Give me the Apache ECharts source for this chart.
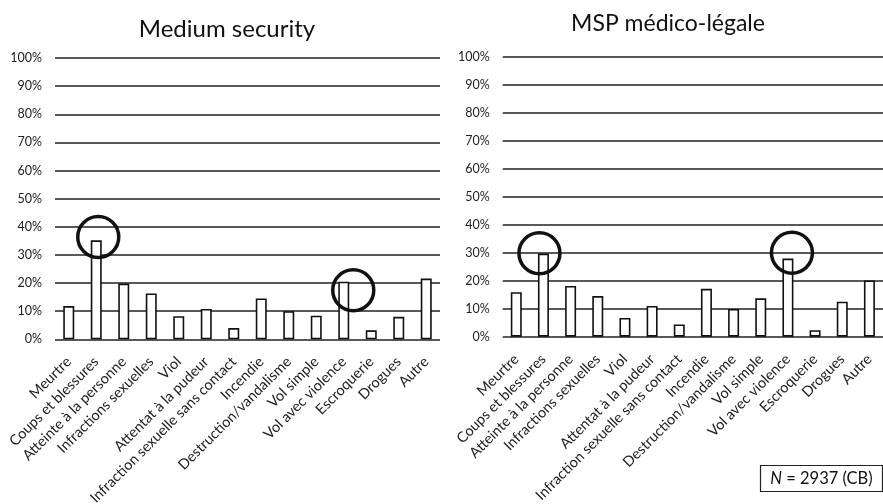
<!DOCTYPE html>
<html><head><meta charset="utf-8">
<script src="https://cdn.jsdelivr.net/npm/echarts@6/dist/echarts.min.js"></script>
<style>html,body{margin:0;padding:0;background:#fff}#c{width:883px;height:504px}</style>
</head><body><div id="c"></div>
<script>
var categories = ['Meurtre','Coups et blessures','Atteinte à la personne','Infractions sexuelles','Viol','Attentat à la pudeur','Infraction sexuelle sans contact','Incendie','Destruction/vandalisme','Vol simple','Vol avec violence','Escroquerie','Drogues','Autre'];
var mediumSecurity = [11.8, 35.2, 19.8, 16.3, 8.2, 10.8, 4.0, 14.5, 10.0, 8.4, 20.5, 3.2, 8.0, 21.6];
var mspMedicoLegale = [15.9, 29.7, 18.1, 14.5, 6.7, 11.0, 4.4, 17.1, 9.9, 13.7, 27.9, 2.3, 12.5, 20.1];
var circlesLeft = [['Coups et blessures', 36.4], ['Vol avec violence', 17.4]];
var circlesRight = [['Coups et blessures', 29.8], ['Vol avec violence', 30.0]];
var titles = ['Medium security', 'MSP médico-légale'];
var noteText = '{i|N} = 2937 (CB)';

var FONT = 'Lato, "Open Sans", sans-serif';
var chart = echarts.init(document.getElementById('c'), null, {renderer:'canvas'});

function xAx(i){
  return {type:'category', gridIndex:i, data:categories,
    axisLine:{show:false}, axisTick:{show:false},
    axisLabel:{rotate:45, interval:0, margin:20, fontFamily:FONT, fontSize:14.5, color:'#222'}};
}
function yAx(i){
  return {type:'value', gridIndex:i, min:0, max:100, interval:10,
    axisLine:{show:false}, axisTick:{show:false},
    axisLabel:{formatter:'{value}%', margin:13, fontFamily:FONT, fontSize:12.5, color:'#222'},
    splitLine:{lineStyle:{color:'#222', width:1.5}}};
}
function markCircles(pts, offsets){
  return {symbol:'circle', symbolSize:41, silent:true,
    label:{show:false},
    itemStyle:{color:'rgba(0,0,0,0)', borderColor:'#111', borderWidth:3.5},
    data: pts.map(function(p, k){ return {coord:p, symbolOffset:offsets[k]}; })};
}
function bars(i, data, m){
  return {type:'bar', xAxisIndex:i, yAxisIndex:i, data:data, barWidth:11,
    itemStyle:{color:'#fff', borderColor:'#111', borderWidth:1.6},
    markPoint:m, z:3};
}

chart.setOption({
  animation:false,
  title:[
    {text:titles[0], left:222, top:12, textAlign:'center', textStyle:{fontFamily:FONT, fontSize:24, fontWeight:'normal', color:'#111'}},
    {text:titles[1], left:663, top:7, textAlign:'center', textStyle:{fontFamily:FONT, fontSize:23, fontWeight:'normal', color:'#111'}}
  ],
  grid:[
    {left:55, right:443, top:58, bottom:164.7, outerBoundsMode:'none', containLabel:false},
    {left:502.7, right:0, top:56.7, bottom:167.3, outerBoundsMode:'none', containLabel:false}
  ],
  xAxis:[xAx(0), xAx(1)],
  yAxis:[yAx(0), yAx(1)],
  series:[
    bars(0, mediumSecurity, markCircles(circlesLeft, [[2,0],[9.5,0]])),
    bars(1, mspMedicoLegale, markCircles(circlesRight, [[-4,0],[4,0]]))
  ],
  graphic:[
    {type:'rect', shape:{x:760.5, y:465.5, width:122, height:26}, style:{fill:'#fff', stroke:'#222', lineWidth:1.2}},
    {type:'text', x:821.5, y:479, style:{text:noteText, align:'center', verticalAlign:'middle', fontFamily:FONT, fontSize:16.5, fill:'#111',
      rich:{i:{fontStyle:'italic', fontFamily:FONT, fontSize:16.5, fill:'#111'}}}}
  ]
});
</script></body></html>
